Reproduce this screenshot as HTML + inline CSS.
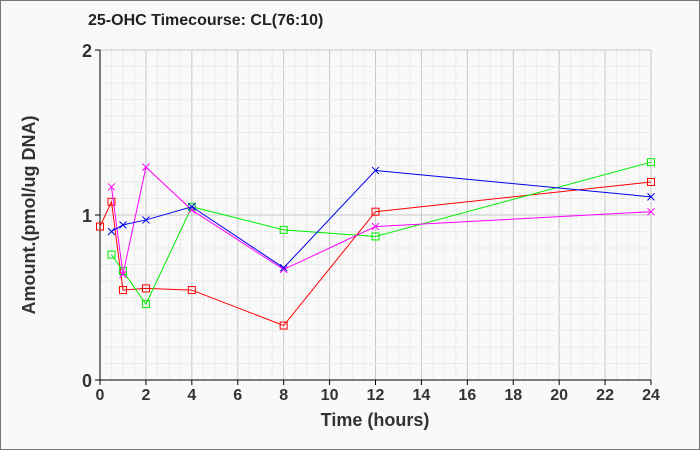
<!DOCTYPE html>
<html><head><style>
body{margin:0;background:#fff}
svg{display:block;font-family:"Liberation Sans",Arial,sans-serif}
</style></head><body>
<svg id="s" width="700" height="450" xmlns="http://www.w3.org/2000/svg">
<rect x="0.5" y="0.5" width="699" height="449" fill="#f9f9f9" stroke="#777"/>
<text x="88" y="25" font-size="16" font-weight="bold" fill="#222">25-OHC Timecourse: CL(76:10)</text>
<g id="grid"></g>
<line x1="100" y1="50" x2="100" y2="380" stroke="#000"/>
<line x1="100" y1="380" x2="651" y2="380" stroke="#000"/>
<g id="data"></g>
<g font-size="18" font-weight="bold" fill="#333" text-anchor="end">
<text x="92" y="57">2</text><text x="92" y="222">1</text><text x="92" y="387">0</text>
</g>
<g id="xt" font-size="16" font-weight="bold" fill="#333" text-anchor="middle"></g>
<text x="375" y="426" font-size="18" font-weight="bold" fill="#333" text-anchor="middle">Time (hours)</text>
<text transform="translate(35,215) rotate(-90)" font-size="18" font-weight="bold" fill="#333" text-anchor="middle">Amount.(pmol/ug DNA)</text>
</svg>
<script>
var NS="http://www.w3.org/2000/svg";
function X(t){return 100+t*551/24}
function Y(v){return 380-165*v}
function el(p,n,a){var e=document.createElementNS(NS,n);for(var k in a)e.setAttribute(k,a[k]);p.appendChild(e);return e}
var g=document.getElementById("grid");
for(var i=1;i<=48;i++){el(g,"line",{x1:X(i/2),x2:X(i/2),y1:50,y2:380,stroke:i%4==0?"#c8c8c8":"#ebebeb"})}
for(var i=1;i<=20;i++){el(g,"line",{x1:100,x2:651,y1:Y(i/10),y2:Y(i/10),stroke:i%10==0?"#c8c8c8":"#ebebeb"})}
for(var i=0;i<=2;i++)el(g,"line",{x1:95,x2:100,y1:Y(i),y2:Y(i),stroke:"#000"});
var xt=document.getElementById("xt");
for(var i=0;i<=24;i+=2){var t=el(xt,"text",{x:X(i),y:400});t.textContent=i;el(g,"line",{x1:X(i),x2:X(i),y1:380,y2:385,stroke:"#000"})}
var S=[
["#ff0000","s",[[0,.93],[.5,1.08],[1,.545],[2,.555],[4,.545],[8,.33],[12,1.02],[24,1.2]]],
["#00ee00","s",[[.5,.76],[1,.66],[2,.46],[4,1.05],[8,.91],[12,.87],[24,1.32]]],
["#ff00ff","x",[[.5,1.17],[1,.64],[2,1.29],[4,1.03],[8,.67],[12,.93],[24,1.02]]],
["#0000ee","x",[[.5,.9],[1,.94],[2,.97],[4,1.05],[8,.68],[12,1.27],[24,1.11]]]];
var d=document.getElementById("data");
S.forEach(function(s){
 var pts=s[2].map(function(p){return X(p[0])+","+Y(p[1])}).join(" ");
 el(d,"polyline",{points:pts,fill:"none",stroke:s[0],"stroke-width":1});
 s[2].forEach(function(p){var x=X(p[0]),y=Y(p[1]);
  if(s[1]=="s")el(d,"rect",{x:x-3.5,y:y-3.5,width:7,height:7,fill:"none",stroke:s[0]});
  else{el(d,"path",{d:"M"+(x-3.5)+","+(y-3.5)+"L"+(x+3.5)+","+(y+3.5)+"M"+(x-3.5)+","+(y+3.5)+"L"+(x+3.5)+","+(y-3.5),stroke:s[0]})}
 });
});
</script>
</body></html>
